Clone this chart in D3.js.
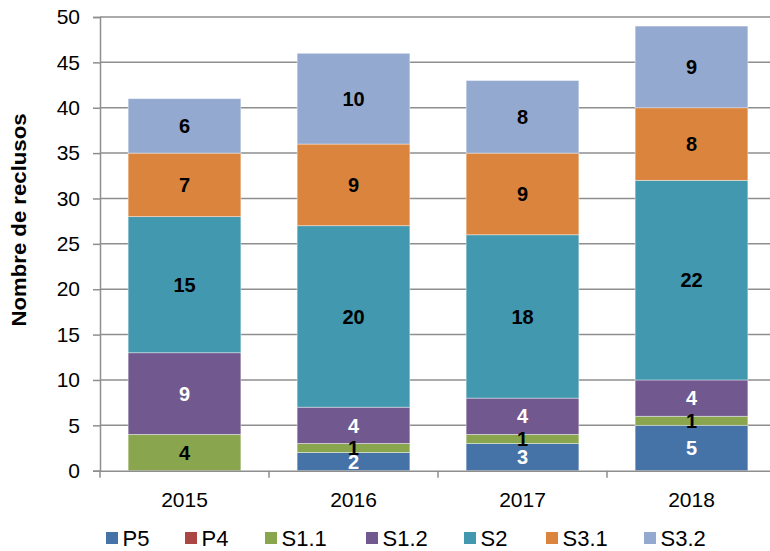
<!DOCTYPE html>
<html>
<head>
<meta charset="utf-8">
<script src="https://d3js.org/d3.v7.min.js"></script>
<style>
  body { margin: 0; background: #fff; }
  text { font-family: "Liberation Sans", Arial, sans-serif; }
</style>
</head>
<body>
<script>
// data
const years = ["2015", "2016", "2017", "2018"];
const seriesNames = ["P5", "P4", "S1.1", "S1.2", "S2", "S3.1", "S3.2"];
const P5   = [0, 2, 3, 5];
const P4   = [0, 0, 0, 0];
const S1_1 = [4, 1, 1, 1];
const S1_2 = [9, 4, 4, 4];
const S2   = [15, 20, 18, 22];
const S3_1 = [7, 9, 9, 8];
const S3_2 = [6, 10, 8, 9];
const yTicks = [0, 5, 10, 15, 20, 25, 30, 35, 40, 45, 50];

const colors = ["#4572A7", "#AA4643", "#89A54E", "#71588F", "#4198AF", "#DB843D", "#93A9CF"];
const labelColors = ["#fff", "#fff", "#000", "#fff", "#000", "#000", "#000"];

const values = [P5, P4, S1_1, S1_2, S2, S3_1, S3_2];
const table = years.map((y, i) => {
  const row = { year: y };
  seriesNames.forEach((s, k) => row[s] = values[k][i]);
  return row;
});

const svg = d3.select("body").append("svg")
  .attr("width", 770).attr("height", 551);

const margin = { top: 17, left: 100, bottom: 80 };
const plotW = 676;
const plotH = 551 - margin.top - margin.bottom - 0.3;

const x = d3.scaleBand().domain(years).range([margin.left, margin.left + plotW])
  .paddingInner(0.333).paddingOuter(0.1665);
const y = d3.scaleLinear().domain([0, 50]).range([margin.top + plotH, margin.top]);

// gridlines
svg.append("g").selectAll("line").data(yTicks.slice(1)).join("line")
  .attr("x1", margin.left).attr("x2", margin.left + plotW)
  .attr("y1", d => y(d)).attr("y2", d => y(d))
  .attr("stroke", "#8e8e8e").attr("stroke-width", 1.5);

// stacked bars
const stack = d3.stack().keys(seriesNames)(table);
const layers = svg.append("g").selectAll("g").data(stack).join("g")
  .attr("fill", (d, i) => colors[i]);
layers.selectAll("rect").data(d => d.filter(p => p[1] - p[0] > 0)).join("rect")
  .attr("x", d => x(d.data.year))
  .attr("width", x.bandwidth())
  .attr("y", d => y(d[1]))
  .attr("height", d => y(d[0]) - y(d[1]))
  .attr("stroke", "rgba(255,255,255,0.5)").attr("stroke-width", 0.8);

// value labels
stack.forEach((layer, i) => {
  svg.append("g").selectAll("text").data(layer.filter(p => p[1] - p[0] > 0)).join("text")
    .attr("x", d => x(d.data.year) + x.bandwidth() / 2)
    .attr("y", d => y((d[0] + d[1]) / 2))
    .attr("dy", "0.36em")
    .attr("text-anchor", "middle")
    .attr("font-size", 20).attr("font-weight", "bold")
    .attr("fill", labelColors[i])
    .text(d => d[1] - d[0]);
});

// y axis
const yAxis = svg.append("g")
  .attr("transform", `translate(${margin.left},0)`)
  .call(d3.axisLeft(y).tickValues(yTicks).tickSize(7).tickPadding(13));
yAxis.select(".domain").attr("stroke", "#8e8e8e").attr("stroke-width", 1.5);
yAxis.selectAll(".tick line").attr("stroke", "#8e8e8e").attr("stroke-width", 1.5);
yAxis.selectAll(".tick text").attr("font-size", 21).attr("fill", "#000")
  .style("font-family", "'Liberation Sans', Arial, sans-serif");

// x axis
const xAxis = svg.append("g")
  .attr("transform", `translate(0,${margin.top + plotH})`)
  .call(d3.axisBottom(x).tickSize(0).tickPadding(21));
xAxis.select(".domain").attr("stroke", "#8e8e8e").attr("stroke-width", 1.5);
xAxis.selectAll(".tick text").attr("font-size", 21).attr("fill", "#000")
  .style("font-family", "'Liberation Sans', Arial, sans-serif");
// category separator ticks
const step = x.step();
svg.append("g").selectAll("line").data(d3.range(years.length + 1)).join("line")
  .attr("x1", d => margin.left + d * step).attr("x2", d => margin.left + d * step)
  .attr("y1", margin.top + plotH).attr("y2", margin.top + plotH + 7)
  .attr("stroke", "#8e8e8e").attr("stroke-width", 1.5);

// y axis title
svg.append("text")
  .attr("transform", "translate(26,220) rotate(-90)")
  .attr("text-anchor", "middle")
  .attr("font-size", 20).attr("font-weight", "bold")
  .attr("textLength", 213).attr("lengthAdjust", "spacingAndGlyphs")
  .text("Nombre de reclusos");

// legend
const legendX = [106, 185, 265, 366, 464, 546, 644];
const leg = svg.append("g").selectAll("g").data(seriesNames).join("g")
  .attr("transform", (d, i) => `translate(${legendX[i]},532)`);
leg.append("rect").attr("width", 12).attr("height", 12)
  .attr("fill", (d, i) => colors[i]);
leg.append("text").attr("x", 16.5).attr("y", 6).attr("dy", "0.36em")
  .attr("font-size", 22).text(d => d);
</script>
</body>
</html>
